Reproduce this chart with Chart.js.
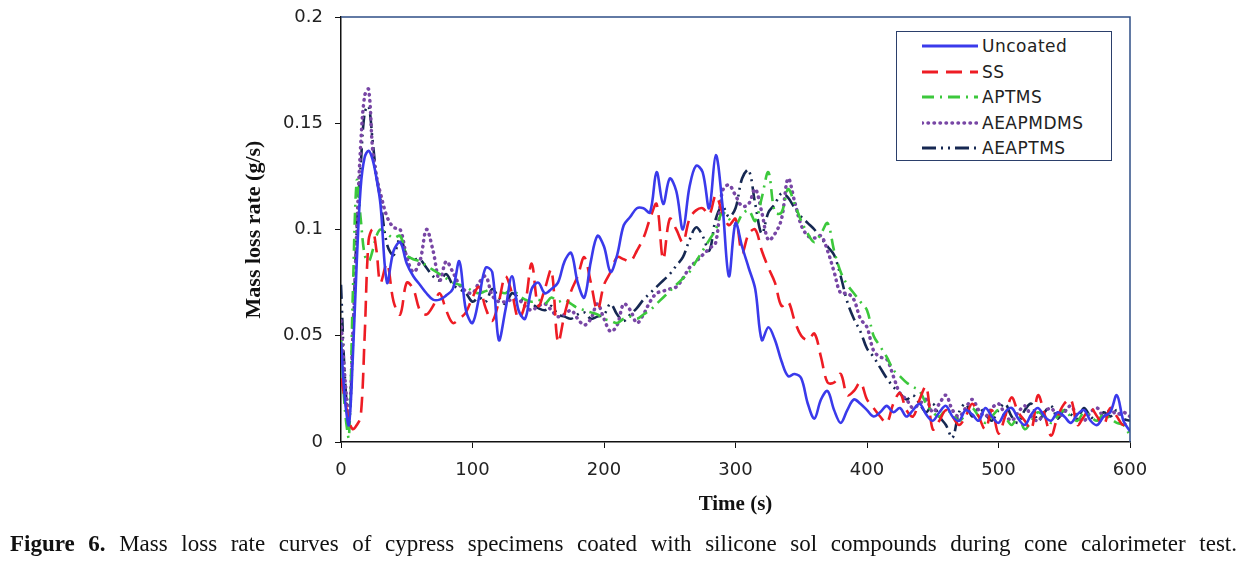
<!DOCTYPE html>
<html>
<head>
<meta charset="utf-8">
<script src="https://cdn.jsdelivr.net/npm/chart.js@4.4.0/dist/chart.umd.min.js"></script>
<style>
  body { margin: 0; background: #fff; }
  #wrap { position: relative; width: 1254px; height: 561px; overflow: hidden; }
  #myChart { position: absolute; left: 0; top: 0; }
  #legend {
    position: absolute; left: 896px; top: 31px; width: 216px; height: 130px;
    border: 1.5px solid #2b3f6b; background: #fff; box-sizing: border-box;
    font-family: "DejaVu Sans", sans-serif; font-size: 17px; letter-spacing: 0.5px; color: #222;
  }
  .row { position: absolute; left: 0; height: 24px; display: flex; align-items: center; }
  .row svg { margin-left: 25px; margin-right: 4px; }
  #caption {
    position: absolute; left: 10px; top: 531px; width: 1227px;
    font-family: "Liberation Serif", serif; font-size: 23px; color: #111;
    text-align: justify; text-align-last: justify;
  }
</style>
</head>
<body>
<div id="wrap">
  <canvas id="myChart" width="1254" height="561"></canvas>
  <div id="legend"></div>
  <div id="caption"><b>Figure 6.</b> Mass loss rate curves of cypress specimens coated with silicone sol compounds during cone calorimeter test.</div>
</div>
<script>
const time = [0, 3, 6, 9, 12, 15, 18, 21, 24, 27, 30,
  35, 40, 45, 50, 55, 60, 65, 70, 75, 80,
  85, 90, 95, 100, 105, 110, 115, 120, 125, 130,
  135, 140, 145, 150, 155, 160, 165, 170, 175, 180,
  185, 190, 195, 200, 205, 210, 215, 220, 225, 230,
  235, 240, 245, 250, 255, 260, 265, 270, 275, 280,
  285, 290, 295, 300, 305, 310, 315, 320, 325, 330,
  335, 340, 345, 350, 355, 360, 365, 370, 375, 380,
  385, 390, 395, 400, 405, 410, 415, 420, 425, 430,
  435, 440, 445, 450, 455, 460, 465, 470, 475, 480,
  485, 490, 495, 500, 505, 510, 515, 520, 525, 530,
  535, 540, 545, 550, 555, 560, 565, 570, 575, 580,
  585, 590, 595, 600]

const uncoated = [0.047, 0.020, 0.008, 0.040, 0.085, 0.120, 0.134, 0.137, 0.133, 0.124, 0.112,
  0.075, 0.090, 0.094, 0.084, 0.078, 0.074, 0.070, 0.067, 0.067, 0.069,
  0.072, 0.085, 0.062, 0.056, 0.068, 0.082, 0.080, 0.048, 0.062, 0.078,
  0.062, 0.058, 0.072, 0.075, 0.070, 0.072, 0.075, 0.085, 0.089, 0.075,
  0.068, 0.085, 0.097, 0.092, 0.080, 0.088, 0.102, 0.106, 0.110, 0.110,
  0.108, 0.127, 0.112, 0.124, 0.118, 0.100, 0.120, 0.130, 0.127, 0.110,
  0.135, 0.112, 0.078, 0.103, 0.092, 0.082, 0.072, 0.048, 0.054, 0.048,
  0.038, 0.031, 0.032, 0.030, 0.018, 0.011, 0.020, 0.024, 0.015, 0.009,
  0.015, 0.020, 0.018, 0.015, 0.012, 0.014, 0.017, 0.014, 0.016, 0.012,
  0.015, 0.018, 0.013, 0.010, 0.014, 0.017, 0.012, 0.010, 0.015, 0.013,
  0.010, 0.016, 0.012, 0.009, 0.014, 0.016, 0.011, 0.008, 0.013, 0.016,
  0.012, 0.010, 0.014, 0.012, 0.009, 0.013, 0.015, 0.010, 0.008, 0.012,
  0.014, 0.022, 0.010, 0.005]

const ss = [0.030, 0.020, 0.010, 0.006, 0.008, 0.012, 0.050, 0.095, 0.100, 0.090, 0.075,
  0.084, 0.066, 0.060, 0.075, 0.072, 0.062, 0.060, 0.064, 0.070, 0.062,
  0.056, 0.058, 0.061, 0.068, 0.073, 0.063, 0.057, 0.066, 0.078, 0.070,
  0.058, 0.065, 0.084, 0.064, 0.072, 0.081, 0.047, 0.060, 0.071, 0.078,
  0.087, 0.075, 0.062, 0.074, 0.080, 0.087, 0.086, 0.085, 0.090, 0.096,
  0.105, 0.112, 0.086, 0.105, 0.100, 0.094, 0.105, 0.109, 0.110, 0.107,
  0.116, 0.108, 0.102, 0.105, 0.089, 0.098, 0.100, 0.090, 0.082, 0.075,
  0.064, 0.066, 0.057, 0.050, 0.048, 0.051, 0.040, 0.028, 0.028, 0.032,
  0.022, 0.024, 0.028, 0.020, 0.016, 0.012, 0.009, 0.018, 0.023, 0.015,
  0.012, 0.020, 0.026, 0.006, 0.010, 0.015, 0.012, 0.008, 0.012, 0.018,
  0.012, 0.006, 0.015, 0.004, 0.012, 0.021, 0.014, 0.010, 0.006, 0.022,
  0.013, 0.003, 0.012, 0.018, 0.020, 0.008, 0.012, 0.016, 0.012, 0.008,
  0.016, 0.012, 0.008, 0.012]

const aptms = [0.048, 0.015, 0.002, 0.070, 0.123, 0.105, 0.088, 0.085, 0.090, 0.097, 0.100,
  0.098, 0.096, 0.097, 0.088, 0.086, 0.085, 0.083, 0.081, 0.079, 0.077,
  0.075, 0.074, 0.073, 0.071, 0.070, 0.071, 0.072, 0.071, 0.070, 0.072,
  0.069, 0.067, 0.066, 0.067, 0.065, 0.068, 0.066, 0.067, 0.065, 0.063,
  0.062, 0.061, 0.060, 0.058, 0.057, 0.056, 0.058, 0.059, 0.058, 0.060,
  0.062, 0.065, 0.068, 0.071, 0.074, 0.077, 0.080, 0.085, 0.090, 0.095,
  0.100, 0.108, 0.105, 0.102, 0.107, 0.109, 0.104, 0.115, 0.127, 0.108,
  0.108, 0.119, 0.112, 0.104, 0.098, 0.094, 0.098, 0.103, 0.090, 0.080,
  0.074, 0.070, 0.066, 0.062, 0.050, 0.045, 0.040, 0.034, 0.031, 0.028,
  0.026, 0.024, 0.018, 0.014, 0.012, 0.015, 0.013, 0.010, 0.013, 0.016,
  0.012, 0.009, 0.012, 0.015, 0.012, 0.008, 0.012, 0.006, 0.010, 0.014,
  0.012, 0.009, 0.012, 0.015, 0.012, 0.010, 0.014, 0.012, 0.010, 0.013,
  0.011, 0.009, 0.008, 0.003]

const aeapmdms = [0.057, 0.030, 0.012, 0.050, 0.100, 0.140, 0.163, 0.166, 0.138, 0.125, 0.117,
  0.106, 0.101, 0.100, 0.087, 0.080, 0.085, 0.100, 0.090, 0.076, 0.085,
  0.080, 0.074, 0.071, 0.070, 0.075, 0.078, 0.069, 0.066, 0.066, 0.067,
  0.067, 0.064, 0.062, 0.064, 0.065, 0.062, 0.059, 0.060, 0.062, 0.058,
  0.055, 0.058, 0.065, 0.058, 0.052, 0.055, 0.065, 0.062, 0.056, 0.060,
  0.066, 0.070, 0.071, 0.072, 0.073, 0.077, 0.082, 0.085, 0.088, 0.091,
  0.094, 0.118, 0.121, 0.116, 0.111, 0.112, 0.119, 0.108, 0.095, 0.098,
  0.105, 0.124, 0.113, 0.102, 0.097, 0.096, 0.097, 0.090, 0.080, 0.070,
  0.070, 0.067, 0.058, 0.054, 0.043, 0.040, 0.039, 0.031, 0.023, 0.020,
  0.016, 0.018, 0.020, 0.014, 0.018, 0.022, 0.015, 0.012, 0.016, 0.020,
  0.015, 0.012, 0.016, 0.018, 0.013, 0.010, 0.014, 0.017, 0.012, 0.010,
  0.014, 0.016, 0.012, 0.014, 0.017, 0.012, 0.010, 0.014, 0.016, 0.012,
  0.015, 0.013, 0.014, 0.012]

const aeaptms = [0.074, 0.030, 0.010, 0.050, 0.100, 0.130, 0.155, 0.158, 0.142, 0.125, 0.114,
  0.093, 0.088, 0.096, 0.088, 0.086, 0.086, 0.082, 0.078, 0.076, 0.079,
  0.074, 0.072, 0.070, 0.066, 0.068, 0.066, 0.072, 0.068, 0.065, 0.070,
  0.068, 0.066, 0.065, 0.063, 0.062, 0.064, 0.060, 0.059, 0.058, 0.060,
  0.061, 0.058, 0.059, 0.060, 0.065, 0.060, 0.057, 0.060, 0.063, 0.067,
  0.070, 0.073, 0.076, 0.079, 0.083, 0.087, 0.095, 0.101, 0.097, 0.090,
  0.105, 0.111, 0.106, 0.110, 0.124, 0.128, 0.112, 0.098, 0.108, 0.112,
  0.117, 0.115, 0.110, 0.106, 0.103, 0.100, 0.096, 0.092, 0.088, 0.078,
  0.066, 0.058, 0.052, 0.044, 0.040, 0.035, 0.030, 0.026, 0.023, 0.020,
  0.022, 0.018, 0.014, 0.018, 0.012, 0.008, 0.002, 0.014, 0.018, 0.012,
  0.016, 0.013, 0.010, 0.015, 0.018, 0.012, 0.009, 0.015, 0.018, 0.010,
  0.014, 0.017, 0.011, 0.015, 0.013, 0.011, 0.016, 0.012, 0.010, 0.014,
  0.012, 0.015, 0.011, 0.010]

// line styles for each series (legend uses the same ones)
const series = [
  { label: 'Uncoated', values: uncoated, color: 'rgb(58, 58, 235)', dash: [] },
  { label: 'SS', values: ss, color: 'rgb(238, 28, 36)', dash: [16, 8] },
  { label: 'APTMS', values: aptms, color: 'rgb(60, 200, 60)', dash: [12, 6, 2, 6] },
  { label: 'AEAPMDMS', values: aeapmdms, color: 'rgb(120, 70, 165)', dash: [0.5, 5.5] },
  { label: 'AEAPTMS', values: aeaptms, color: 'rgb(22, 40, 82)', dash: [14, 5, 2, 5, 2, 5] },
]

const isDotted = s => s.dash.length === 2 && s.dash[0] < 1

const datasets = series.map(s => ({
  label: s.label,
  data: time.map((t, i) => ({ x: t, y: s.values[i] })),
  borderColor: s.color,
  borderWidth: isDotted(s) ? 3.5 : 2.6,
  borderDash: s.dash,
  borderCapStyle: isDotted(s) ? 'round' : 'butt',
  pointRadius: 0,
  tension: 0.35,
  fill: false,
}))

// box line on top and right of plot area
const frame = {
  id: 'frame',
  afterDraw(chart) {
    const { ctx, chartArea: a } = chart
    ctx.save()
    ctx.strokeStyle = '#2f4f86'
    ctx.lineWidth = 1.5
    ctx.beginPath()
    ctx.moveTo(a.left, a.top)
    ctx.lineTo(a.right, a.top)
    ctx.lineTo(a.right, a.bottom)
    ctx.stroke()
    ctx.restore()
  }
}

const tickFont = { family: 'DejaVu Sans', size: 18 }

const config = {
  type: 'line',
  data: { datasets },
  options: {
    responsive: false,
    animation: false,
    devicePixelRatio: 1,
    layout: { padding: { left: 240, top: 17, right: 124, bottom: 0 } },
    plugins: {
      legend: { display: false },
      tooltip: { enabled: false },
    },
    scales: {
      x: {
        type: 'linear',
        min: 0,
        max: 600,
        ticks: { stepSize: 100, font: tickFont, color: '#222', padding: 12, maxRotation: 0 },
        grid: { drawOnChartArea: false, tickLength: 6, color: '#111' },
        border: { color: '#111', width: 1.5 },
        title: { display: true, text: 'Time (s)', color: '#111',
          font: { family: 'Liberation Serif', size: 21, weight: 'bold' }, padding: { bottom: 44 } },
        afterFit(scale) { scale.height = 119 },
      },
      y: {
        min: 0,
        max: 0.2,
        ticks: { stepSize: 0.05, font: tickFont, color: '#222', padding: 12,
          callback: v => String(parseFloat(v.toFixed(2))) },
        grid: { drawOnChartArea: false, tickLength: 6, color: '#111' },
        border: { color: '#111', width: 1.5 },
        title: { display: true, text: 'Mass loss rate (g/s)', color: '#111',
          font: { family: 'Liberation Serif', size: 22, weight: 'bold' }, padding: { top: 1 } },
        afterFit(scale) {
          scale.width = 101
          scale.paddingTop = 0
          scale.paddingBottom = 0
        },
      },
    },
  },
  plugins: [frame],
}

const myChart = new Chart(document.getElementById('myChart'), config)

// legend box
const legend = document.getElementById('legend')
series.forEach((s, i) => {
  const row = document.createElement('div')
  row.className = 'row'
  row.style.top = (2 + i * 25.6) + 'px'
  const round = isDotted(s)
  row.innerHTML = '<svg width="56" height="10"><line x1="0" y1="5" x2="56" y2="5" stroke="' + s.color +
    '" stroke-width="' + (round ? 3.5 : 3) + '" stroke-linecap="' + (round ? 'round' : 'butt') +
    '" stroke-dasharray="' + (s.dash.length ? s.dash.join(' ') : 'none') + '"/></svg><span>' + s.label + '</span>'
  legend.appendChild(row)
})
</script>
</body>
</html>
